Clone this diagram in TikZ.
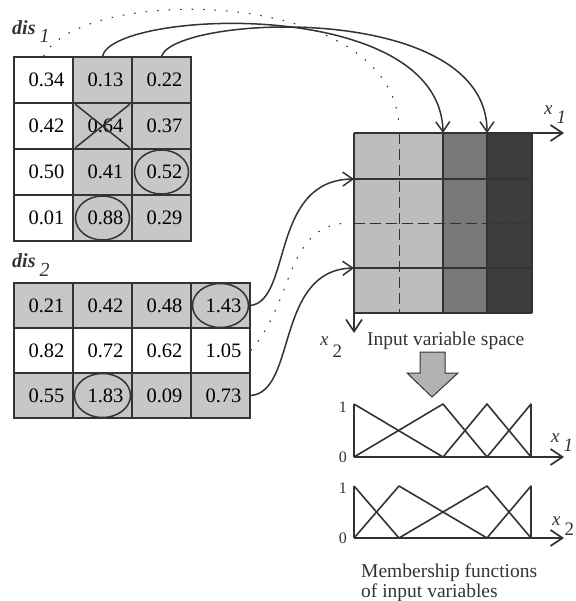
\documentclass[tikz,border=0pt]{standalone}
\usepackage{fontspec}
\setmainfont{Liberation Serif}
\usetikzlibrary{arrows.meta,calc}

\definecolor{ink}{gray}{0.2}
\definecolor{cellgray}{gray}{0.78}
\definecolor{lightband}{gray}{0.74}
\definecolor{midband}{gray}{0.47}
\definecolor{darkband}{gray}{0.24}
\definecolor{blockgray}{gray}{0.70}

\tikzset{
  cell/.style={draw=ink, line width=1.4pt, minimum width=59pt, minimum height=46pt,
    inner sep=0pt, font=\fontsize{20.5}{22}\selectfont, execute at begin node={\hspace*{6pt}}},
  shaded/.style={cell, fill=cellgray},
  ring/.style={draw=ink, line width=1.5pt},
  conn/.style={draw=ink, line width=1.5pt, -{Straight Barb[length=10pt,width=14pt,line width=1.5pt]}},
  trail/.style={draw=ink, line width=1.1pt, dash pattern=on 1.5pt off 10pt},
  gridline/.style={draw=ink, line width=1.7pt},
  crossline/.style={draw=ink, line width=0.9pt, dash pattern=on 11pt off 5pt},
  axis/.style={draw=ink, line width=1.7pt, -{Straight Barb[length=12pt,width=16pt,line width=1.7pt]}},
  mf/.style={draw=ink, line width=1.6pt, line join=round},
  lbl/.style={font=\fontsize{19}{21}\selectfont, inner sep=0pt, text=ink},
  tablelbl/.style={font=\fontsize{20}{22}\selectfont, inner sep=0pt, text=ink},
  tick/.style={font=\fontsize{16}{18}\selectfont, inner sep=0pt, text=ink},
  caption/.style={font=\fontsize{19.5}{21}\selectfont, inner sep=0pt, text=ink, align=left},
}

\begin{document}
\begin{tikzpicture}[x=1pt, y=-1pt]
\useasboundingbox (0,0) rectangle (575,601);

% ---------- table dis_1 ----------
\node[tablelbl, anchor=base west] (dis1) at (12,35)
  {\bfseries\itshape dis\hspace{4pt}\raisebox{-8pt}{\mdseries 1}};
\foreach \r/\a/\b/\c in {1/0.34/0.13/0.22, 2/0.42/0.64/0.37, 3/0.50/0.41/0.52, 4/0.01/0.88/0.29} {
  \node[cell]   (d1-\r-1) at (43.5, {57+46*(\r-0.5)}) {\a};
  \node[shaded] (d1-\r-2) at (102.5,{57+46*(\r-0.5)}) {\b};
  \node[shaded] (d1-\r-3) at (161.5,{57+46*(\r-0.5)}) {\c};
}
% struck-out entry
\draw[ring] ($(d1-2-2.north west)+(3,2)$) -- ($(d1-2-2.south east)+(-3,-2)$);
\draw[ring] ($(d1-2-2.north east)+(-3,2)$) -- ($(d1-2-2.south west)+(3,-2)$);
% selected entries
\draw[ring] (d1-3-3.center) ellipse [x radius=27, y radius=22];
\draw[ring] (d1-4-2.center) ellipse [x radius=27, y radius=22];

% ---------- table dis_2 ----------
\node[tablelbl, anchor=base west] (dis2) at (12,267)
  {\bfseries\itshape dis\hspace{4pt}\raisebox{-9pt}{\mdseries 2}};
\foreach \r/\a/\b/\c/\d/\s in {1/0.21/0.42/0.48/1.43/shaded, 2/0.82/0.72/0.62/1.05/cell, 3/0.55/1.83/0.09/0.73/shaded} {
  \node[\s, minimum height=45pt] (d2-\r-1) at (43.5, {283+45*(\r-0.5)}) {\a};
  \node[\s, minimum height=45pt] (d2-\r-2) at (102.5,{283+45*(\r-0.5)}) {\b};
  \node[\s, minimum height=45pt] (d2-\r-3) at (161.5,{283+45*(\r-0.5)}) {\c};
  \node[\s, minimum height=45pt] (d2-\r-4) at (220.5,{283+45*(\r-0.5)}) {\d};
}
\draw[ring] (d2-1-4.center) ellipse [x radius=28, y radius=22];
\draw[ring] (d2-3-2.center) ellipse [x radius=28, y radius=22];

% ---------- input variable space ----------
\coordinate (o)   at (354,133);
\coordinate (c1)  at (399,133);
\coordinate (c2)  at (443,133);
\coordinate (c3)  at (487,133);
\coordinate (r1)  at (354,179);
\coordinate (r2)  at (354,223);
\coordinate (r3)  at (354,268);
\coordinate (x1end) at (564,133);
\coordinate (x2end) at (354,333);

\fill[lightband] (354,133) rectangle (443,313);
\fill[midband]   (443,133) rectangle (487,313);
\fill[darkband]  (487,133) rectangle (532,313);
\draw[crossline] (399,133) -- (399,313);
\draw[crossline] (354,223) -- (532,223);
\foreach \yy in {179,268,313} \draw[gridline] (354,\yy) -- (532,\yy);
\foreach \xx in {443,487,532} \draw[gridline] (\xx,133) -- (\xx,313);
\draw[axis] (o) -- (x1end);
\draw[axis] (o) -- (x2end);
\node[lbl, anchor=base west] (x1lab) at (544,115) {\itshape x\hspace{4pt}\raisebox{-9pt}{1}};
\node[lbl, anchor=base west] (x2lab) at (320,345) {\itshape x\hspace{4pt}\raisebox{-12pt}{\upshape 2}};
\node[caption, anchor=base west] (space) at (367,345) {Input variable space};

% ---------- connectors from the tables ----------
\draw[conn] (d1-1-2.north) .. controls (112,10) and (440,-5) .. (c2);
\draw[conn] (d1-1-3.north) .. controls (175,15) and (487,0) .. (c3);
\draw[trail] (d1-1-1.north) .. controls (80,-15) and (390,-15) .. ($(c1)+(0,-8)$);
\draw[conn] (d2-1-4.east) .. controls (292,300) and (270,180) .. (r1);
\draw[conn] (d2-3-4.east) .. controls (297,392) and (275,270) .. (r3);
\draw[trail] (d2-2-4.east) .. controls (295,300) and (285,225) .. ($(r2)+(-6,0)$);

% ---------- block arrow ----------
\draw[ink, fill=blockgray, line width=1pt]
  (420,352) -- (445,352) -- (445,373) -- (458,373) -- (432,397) -- (407,373) -- (420,373) -- cycle;

% ---------- membership functions of x1 ----------
\coordinate (m1o) at (354,457);
\coordinate (m1end) at (564,457);
\draw[mf] (354,404) -- (443,457);
\draw[mf] (354,457) -- (443,404) -- (487,457);
\draw[mf] (443,457) -- (487,404) -- (531,457);
\draw[mf] (487,457) -- (531,404) -- (531,457);
\draw[mf] (354,404) -- (354,457);
\draw[axis] (m1o) -- (m1end);
\node[tick, anchor=base east] (m1one)  at (347,412) {1};
\node[tick, anchor=base east] (m1zero) at (347,462) {0};
\node[lbl, anchor=base west] (mx1) at (551,442) {\itshape x\hspace{4pt}\raisebox{-9pt}{1}};

% ---------- membership functions of x2 ----------
\coordinate (m2o) at (354,538);
\coordinate (m2end) at (564,538);
\draw[mf] (354,486) -- (399,538);
\draw[mf] (354,538) -- (399,486) -- (487,538);
\draw[mf] (399,538) -- (487,486) -- (531,538);
\draw[mf] (487,538) -- (531,486) -- (531,538);
\draw[mf] (354,486) -- (354,538);
\draw[axis] (m2o) -- (m2end);
\node[tick, anchor=base east] (m2one)  at (347,493) {1};
\node[tick, anchor=base east] (m2zero) at (347,543) {0};
\node[lbl, anchor=base west] (mx2) at (552,525) {\itshape x\hspace{4pt}\raisebox{-10pt}{\upshape 2}};

\node[caption, anchor=north west] (mfcap) at (361,564) {Membership functions\\[-1pt]of input variables};
\end{tikzpicture}
\end{document}
